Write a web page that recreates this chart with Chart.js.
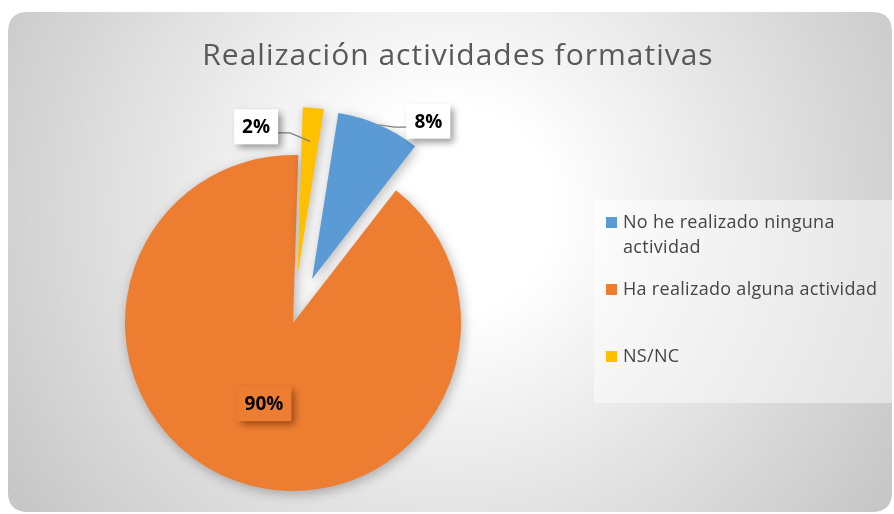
<!DOCTYPE html>
<html>
<head>
<meta charset="utf-8">
<script src="https://cdn.jsdelivr.net/npm/chart.js@4"></script>
<style>
  html, body { margin: 0; padding: 0; background: #fff; }
  #wrap { position: relative; width: 894px; height: 514px; }
</style>
</head>
<body>
<div id="wrap"><canvas id="chartActividades" width="894" height="514"></canvas></div>
<script>
const chartTitle = "Realización actividades formativas";
const categories = ["No he realizado ninguna actividad", "Ha realizado alguna actividad", "NS/NC"];
const legendLines = [["No he realizado ninguna", "actividad"], ["Ha realizado alguna actividad"], ["NS/NC"]];
const percentValues = [8, 90, 2];
const valueLabels = ["8%", "90%", "2%"];
const sliceColors = ["#5B9BD5", "#ED7D31", "#FFC000"];
const explodeOffsets = [48, 0, 48];

// where each data label goes (relative to its slice)
const labelPlacement = [
    { inside: false, angleShift: 13, dist: 196, lineR: 1.0, fill: "#ffffff" },
    { inside: true, ratio: 0.51, fill: "#ED7D31" },
    { inside: false, angleShift: -21, dist: 154, lineR: 0.8, fill: "#ffffff" }
];

const rad = (d) => d * Math.PI / 180;

const roundRect = (ctx, x, y, w, h, r) => {
    ctx.beginPath();
    ctx.moveTo(x + r, y);
    ctx.lineTo(x + w - r, y);
    ctx.quadraticCurveTo(x + w, y, x + w, y + r);
    ctx.lineTo(x + w, y + h - r);
    ctx.quadraticCurveTo(x + w, y + h, x + w - r, y + h);
    ctx.lineTo(x + r, y + h);
    ctx.quadraticCurveTo(x, y + h, x, y + h - r);
    ctx.lineTo(x, y + r);
    ctx.quadraticCurveTo(x, y, x + r, y);
    ctx.closePath();
};

const sliceCenter = (arc, i) => {
    const p = arc.getProps(["x", "y", "startAngle", "endAngle", "outerRadius"], true);
    const mid = (p.startAngle + p.endAngle) / 2;
    const off = explodeOffsets[i];
    return { cx: p.x + Math.cos(mid) * off, cy: p.y + Math.sin(mid) * off, mid: mid, r: p.outerRadius, dx: Math.cos(mid) * off, dy: Math.sin(mid) * off };
};

// background card, title and legend
const cardPlugin = {
    id: "card",
    beforeDraw(chart) {
        const ctx = chart.ctx;
        ctx.save();
        const grad = ctx.createRadialGradient(450, 210, 0, 450, 210, 600);
        grad.addColorStop(0, "#ffffff");
        grad.addColorStop(0.17, "#ffffff");
        grad.addColorStop(1, "#bcbcbc");
        roundRect(ctx, 8, 12, 884, 500, 20);
        ctx.fillStyle = grad;
        ctx.fill();

        ctx.fillStyle = "#595959";
        ctx.font = "30px 'Open Sans', 'Noto Sans', sans-serif";
        ctx.letterSpacing = "1px";
        ctx.textAlign = "center";
        ctx.textBaseline = "alphabetic";
        ctx.fillText(chartTitle, 458, 65);

        // legend box
        ctx.fillStyle = "rgba(255,255,255,0.45)";
        ctx.fillRect(594, 200, 298, 203);
        ctx.font = "18px 'Open Sans', 'Noto Sans', sans-serif";
        ctx.letterSpacing = "0.3px";
        ctx.textAlign = "left";
        const rowY = [228, 295, 362];
        legendLines.forEach((lines, i) => {
            ctx.fillStyle = sliceColors[i];
            ctx.fillRect(606, rowY[i] - 11, 11, 11);
            ctx.fillStyle = "#444444";
            lines.forEach((t, j) => ctx.fillText(t, 623, rowY[i] + j * 25));
        });
        ctx.letterSpacing = "0px";
        ctx.restore();
    },
    // exploded slices with soft shadow
    beforeDatasetDraw(chart, args) {
        const ctx = chart.ctx;
        const meta = chart.getDatasetMeta(args.index);
        meta.data.forEach((arc, i) => {
            const s = sliceCenter(arc, i);
            ctx.save();
            ctx.shadowColor = "rgba(0,0,0,0.28)";
            ctx.shadowBlur = 12;
            ctx.shadowOffsetX = 2;
            ctx.shadowOffsetY = 3;
            ctx.translate(s.dx, s.dy);
            arc.draw(ctx);
            ctx.restore();
        });
        return false;
    }
};

// data labels with leader lines
const labelPlugin = {
    id: "sliceLabels",
    afterDraw(chart) {
        const ctx = chart.ctx;
        const meta = chart.getDatasetMeta(0);
        ctx.save();
        ctx.font = "bold 19px 'Open Sans', 'Noto Sans', sans-serif";
        ctx.textAlign = "center";
        ctx.textBaseline = "middle";
        meta.data.forEach((arc, i) => {
            const s = sliceCenter(arc, i);
            const pl = labelPlacement[i];
            let lx, ly;
            if (pl.inside) {
                lx = s.cx + Math.cos(s.mid) * s.r * pl.ratio;
                ly = s.cy + Math.sin(s.mid) * s.r * pl.ratio;
            } else {
                const a = s.mid + rad(pl.angleShift);
                lx = s.cx + Math.cos(a) * pl.dist;
                ly = s.cy + Math.sin(a) * pl.dist;
            }
            const w = ctx.measureText(valueLabels[i]).width + 16;
            const h = 35;
            const bx = lx - w / 2, by = ly - h / 2;

            if (!pl.inside) {
                const ex = s.cx + Math.cos(s.mid) * s.r * pl.lineR;
                const ey = s.cy + Math.sin(s.mid) * s.r * pl.lineR;
                const right = ex > lx;
                const sx = right ? bx + w : bx;
                ctx.strokeStyle = "#7f7f7f";
                ctx.lineWidth = 1.2;
                ctx.beginPath();
                ctx.moveTo(sx, ly + 6);
                ctx.lineTo(sx + (right ? 12 : -12), ly + 6);
                ctx.lineTo(ex, ey);
                ctx.stroke();
            }

            ctx.save();
            ctx.shadowColor = pl.inside ? "rgba(80,30,0,0.55)" : "rgba(0,0,0,0.4)";
            ctx.shadowBlur = 7;
            ctx.shadowOffsetX = 4;
            ctx.shadowOffsetY = 4;
            ctx.fillStyle = pl.fill;
            ctx.fillRect(bx, by, w, h);
            ctx.restore();

            ctx.fillStyle = "#000000";
            ctx.fillText(valueLabels[i], lx, ly + 1);
        });
        ctx.restore();
    }
};

const chartActividades = new Chart(document.getElementById("chartActividades"), {
    type: "pie",
    data: {
        labels: categories,
        datasets: [
            {
                data: percentValues,
                backgroundColor: sliceColors,
                borderWidth: 0,
                hoverOffset: 0
            }
        ]
    },
    options: {
        responsive: false,
        animation: false,
        rotation: 9,
        radius: 168,
        layout: {
            padding: { left: 180, right: 488, top: 200, bottom: 68 }
        },
        plugins: {
            legend: { display: false },
            title: { display: false },
            tooltip: { enabled: false }
        }
    },
    plugins: [cardPlugin, labelPlugin]
});
</script>
</body>
</html>
